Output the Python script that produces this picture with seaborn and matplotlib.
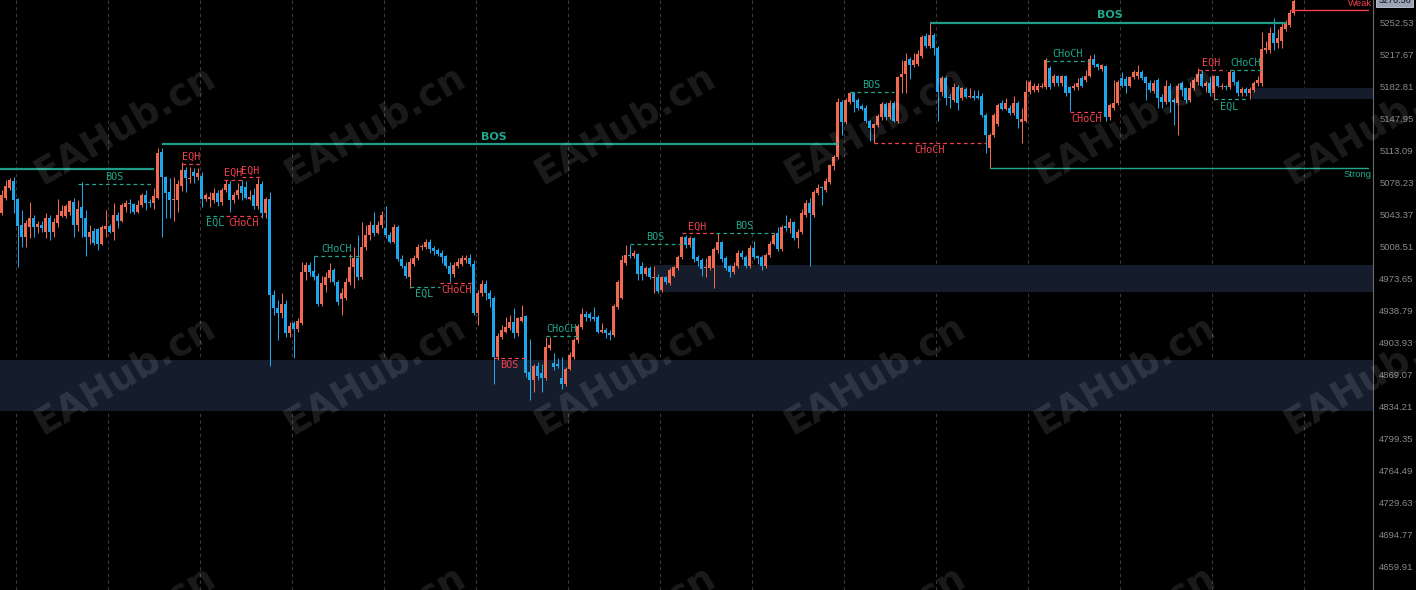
import numpy as np
import pandas as pd
import matplotlib
matplotlib.use("Agg")
import matplotlib.pyplot as plt
import matplotlib.transforms as mtransforms
import seaborn as sns

# --- candle data (one row per bar) ---
opens = [
    5045, 5062, 5073, 5080, 5060, 5032, 5019, 5030, 5040, 5030, 5032,
    5024, 5040, 5024, 5034, 5042, 5042, 5046, 5057, 5032, 5052,
    5040, 5019, 5026, 5028, 5012, 5028, 5031, 5025, 5043, 5037,
    5052, 5056, 5055, 5046, 5054, 5065, 5057, 5056, 5062, 5112,
    5084, 5068, 5059, 5059, 5075, 5092, 5082, 5090, 5084, 5086, 5061, 5060, 5059, 5067, 5057, 5070, 5077,
    5059, 5065, 5075, 5074, 5061, 5065, 5053, 5077, 5045, 5061,
    4956, 4942, 4936, 4946, 4914, 4925, 4919, 4925, 4981, 4989,
    4982, 4977, 4946, 4967, 4974, 4983, 4970, 4952, 4953, 4970,
    4986, 4996, 4975, 5008, 5021, 5032, 5023, 5032, 5029, 5021,
    5014, 5030, 4995, 4988, 4975, 4990, 4996, 5008, 5008, 5014,
    5007, 5005, 5002, 4998, 4988, 4979, 4987, 4990, 4994, 4996,
    4990, 4936, 4958, 4968, 4958, 4953, 4888, 4910, 4916, 4920,
    4926, 4914, 4928, 4933, 4872, 4863, 4879, 4871, 4865, 4898,
    4882, 4881, 4866, 4859, 4875, 4888, 4907, 4921, 4935, 4935,
    4932, 4932, 4916, 4918, 4915, 4912, 4943, 4953, 4991, 5000,
    4998, 5001, 4988, 4979, 4985, 4974, 4976, 4961, 4975, 4969,
    4977, 4985, 4997, 5019, 5010, 5018, 4997, 4994, 4985, 4985,
    4985, 5005, 5014, 4996, 4987, 4981, 4987, 5002, 4997, 4987,
    5007, 4998, 4997, 4987, 4999, 5012, 5023, 5006, 5031, 5029,
    5035, 5018, 5024, 5043, 5056, 5043, 5067, 5073, 5070, 5079,
    5096, 5106, 5166, 5144, 5166, 5176, 5168, 5162, 5160, 5146,
    5138, 5141, 5150, 5164, 5150, 5165, 5146, 5193, 5197, 5213,
    5206, 5208, 5216, 5238, 5227, 5239, 5225, 5177, 5192, 5172,
    5168, 5183, 5170, 5180, 5172, 5173, 5173, 5173, 5152, 5116,
    5130, 5142, 5165, 5159, 5160, 5154, 5165, 5144, 5146, 5177,
    5179, 5179, 5182, 5182, 5203, 5187, 5194, 5187, 5194, 5182,
    5181, 5182, 5192, 5190, 5195, 5213, 5208, 5202, 5205, 5150,
    5160, 5165, 5192, 5191, 5184, 5193, 5195, 5199, 5193, 5187,
    5178, 5190, 5172, 5166, 5184, 5168, 5165, 5187, 5181, 5168,
    5181, 5188, 5197, 5184, 5187, 5176, 5194, 5183, 5184, 5182,
    5199, 5188, 5176, 5180, 5176, 5179, 5187, 5187, 5223, 5223,
    5241, 5230, 5233, 5246, 5250, 5263,
]
closes = [
    5065, 5075, 5081, 5059, 5031, 5019, 5034, 5040, 5030, 5033, 5029,
    5040, 5024, 5035, 5043, 5047, 5053, 5058, 5032, 5050, 5040,
    5019, 5024, 5013, 5012, 5030, 5031, 5025, 5043, 5037, 5054,
    5056, 5055, 5046, 5054, 5065, 5056, 5056, 5064, 5111, 5084,
    5067, 5059, 5061, 5077, 5092, 5083, 5083, 5086, 5089, 5061, 5065, 5063, 5067, 5057, 5070, 5077, 5059,
    5065, 5070, 5067, 5062, 5063, 5053, 5077, 5045, 5061, 4956,
    4942, 4936, 4946, 4914, 4922, 4919, 4928, 4981, 4989, 4981,
    4975, 4946, 4969, 4975, 4983, 4970, 4948, 4958, 4970, 4986,
    4996, 4975, 5008, 5021, 5032, 5023, 5032, 5043, 5021, 5014,
    5030, 4995, 4987, 4977, 4992, 4996, 5008, 5009, 5014, 5006,
    5004, 5001, 4997, 4988, 4979, 4989, 4992, 4996, 4996, 4990,
    4936, 4958, 4968, 4958, 4952, 4888, 4911, 4918, 4921, 4926,
    4914, 4931, 4932, 4871, 4863, 4879, 4868, 4865, 4899, 4901,
    4877, 4879, 4859, 4875, 4891, 4907, 4922, 4935, 4932, 4931,
    4930, 4916, 4918, 4914, 4912, 4944, 4970, 4994, 4999, 4998,
    5002, 4979, 4979, 4985, 4975, 4976, 4960, 4975, 4970, 4983,
    4986, 4997, 5019, 5010, 5018, 4995, 4993, 4984, 4986, 4998,
    5006, 5014, 4995, 4985, 4981, 4988, 5002, 4997, 4987, 5007,
    4997, 4996, 4987, 5000, 5012, 5021, 5006, 5030, 5029, 5035,
    5018, 5025, 5045, 5056, 5045, 5068, 5072, 5072, 5080, 5097,
    5106, 5166, 5144, 5168, 5176, 5166, 5160, 5159, 5145, 5138,
    5142, 5151, 5164, 5150, 5165, 5146, 5193, 5197, 5211, 5206,
    5212, 5219, 5237, 5227, 5239, 5225, 5177, 5192, 5171, 5170,
    5183, 5165, 5181, 5172, 5173, 5171, 5171, 5152, 5130, 5130,
    5152, 5163, 5159, 5165, 5154, 5165, 5148, 5148, 5177, 5188,
    5184, 5184, 5184, 5212, 5182, 5195, 5187, 5194, 5176, 5176,
    5184, 5187, 5184, 5195, 5213, 5206, 5204, 5206, 5150, 5163,
    5165, 5188, 5184, 5184, 5193, 5199, 5199, 5192, 5187, 5179,
    5187, 5171, 5166, 5184, 5166, 5166, 5184, 5179, 5168, 5181,
    5190, 5197, 5184, 5187, 5176, 5194, 5184, 5184, 5182, 5199,
    5188, 5176, 5180, 5176, 5180, 5187, 5190, 5224, 5225, 5241,
    5230, 5236, 5248, 5252, 5263, 5276.56,
]
highs = [
    5070, 5081, 5083, 5084, 5062, 5048, 5038, 5057, 5043, 5037, 5036,
    5045, 5043, 5040, 5061, 5054, 5055, 5059, 5062, 5059, 5079,
    5048, 5032, 5029, 5029, 5032, 5048, 5033, 5056, 5046, 5056,
    5059, 5061, 5056, 5059, 5067, 5070, 5061, 5072, 5116, 5116,
    5086, 5083, 5084, 5081, 5101, 5095, 5095, 5094, 5094, 5090, 5067, 5068, 5073, 5070, 5072, 5081, 5080,
    5068, 5078, 5081, 5080, 5070, 5072, 5083, 5080, 5063, 5068,
    4961, 4950, 4958, 4950, 4926, 4928, 4931, 4992, 4992, 4992,
    4998, 4980, 4977, 4981, 4991, 4985, 4972, 4964, 4974, 5001,
    5008, 5021, 5035, 5032, 5037, 5046, 5037, 5047, 5053, 5024,
    5033, 5032, 4999, 4992, 4996, 4999, 5011, 5012, 5017, 5017,
    5009, 5007, 5005, 5000, 4992, 4992, 4996, 4999, 4999, 5001,
    4994, 4961, 4972, 4972, 4961, 4955, 4914, 4923, 4932, 4934,
    4942, 4932, 4945, 4934, 4908, 4881, 4883, 4881, 4910, 4910,
    4893, 4887, 4888, 4878, 4894, 4909, 4924, 4942, 4939, 4937,
    4943, 4934, 4925, 4920, 4918, 4946, 4972, 4999, 5010, 5010,
    5005, 5002, 4992, 4987, 4987, 4988, 4979, 4977, 4977, 4985,
    4988, 4999, 5020, 5021, 5020, 5019, 4999, 4996, 4996, 5000,
    5008, 5023, 5015, 4998, 4989, 4992, 5005, 5005, 4999, 5010,
    5015, 5000, 4999, 5002, 5015, 5023, 5030, 5032, 5043, 5040,
    5037, 5028, 5050, 5059, 5062, 5070, 5077, 5075, 5083, 5099,
    5108, 5171, 5168, 5170, 5177, 5177, 5170, 5164, 5163, 5148,
    5143, 5153, 5166, 5166, 5168, 5167, 5195, 5212, 5220, 5215,
    5220, 5223, 5239, 5241, 5252, 5241, 5227, 5194, 5194, 5175,
    5187, 5185, 5183, 5182, 5181, 5179, 5179, 5176, 5154, 5132,
    5154, 5165, 5168, 5170, 5163, 5173, 5167, 5160, 5190, 5190,
    5187, 5187, 5187, 5214, 5205, 5197, 5196, 5196, 5196, 5184,
    5187, 5192, 5194, 5201, 5217, 5218, 5209, 5208, 5207, 5165,
    5190, 5190, 5199, 5195, 5195, 5201, 5206, 5201, 5195, 5190,
    5190, 5192, 5175, 5190, 5187, 5170, 5187, 5189, 5183, 5188,
    5192, 5203, 5201, 5189, 5195, 5196, 5195, 5187, 5185, 5201,
    5201, 5190, 5182, 5182, 5182, 5189, 5195, 5242, 5233, 5248,
    5258, 5246, 5252, 5255, 5266, 5279,
]
lows = [
    5043, 5059, 5070, 5045, 4986, 5008, 5008, 5018, 5019, 5023, 5024,
    5018, 5016, 5019, 5030, 5041, 5040, 5043, 5019, 5026, 5019,
    4998, 5012, 5010, 5005, 5010, 5019, 5023, 5016, 5029, 5035,
    5046, 5045, 5044, 5045, 5052, 5048, 5052, 5050, 5060, 5019,
    5040, 5040, 5037, 5046, 5069, 5068, 5078, 5078, 5081, 5052, 5058, 5052, 5056, 5053, 5054, 5068, 5046,
    5056, 5061, 5059, 5060, 5059, 5050, 5050, 5040, 5040, 4879,
    4934, 4907, 4931, 4910, 4910, 4887, 4916, 4923, 4972, 4977,
    4972, 4944, 4944, 4959, 4970, 4967, 4945, 4934, 4950, 4967,
    4964, 4972, 4973, 5005, 5016, 5020, 5022, 5029, 5018, 5013,
    5013, 4993, 4985, 4974, 4964, 4988, 4994, 5005, 5006, 5002,
    5000, 4998, 4991, 4985, 4970, 4976, 4985, 4988, 4991, 4987,
    4934, 4923, 4955, 4950, 4943, 4859, 4885, 4908, 4914, 4918,
    4909, 4911, 4926, 4867, 4841, 4850, 4863, 4850, 4863, 4896,
    4874, 4876, 4854, 4857, 4874, 4886, 4904, 4919, 4928, 4928,
    4928, 4915, 4914, 4909, 4907, 4910, 4941, 4951, 4989, 4996,
    4996, 4972, 4972, 4977, 4973, 4958, 4958, 4959, 4968, 4967,
    4975, 4983, 4995, 5007, 5008, 4992, 4988, 4977, 4975, 4983,
    4964, 5002, 4992, 4983, 4975, 4979, 4985, 4995, 4985, 4985,
    4995, 4990, 4983, 4985, 4997, 5010, 5004, 5004, 5026, 5023,
    5016, 5007, 5022, 5041, 4988, 5041, 5065, 5054, 5068, 5077,
    5092, 5104, 5130, 5142, 5164, 5155, 5158, 5157, 5143, 5124,
    5121, 5139, 5147, 5147, 5148, 5144, 5143, 5176, 5176, 5191,
    5204, 5205, 5214, 5225, 5225, 5217, 5146, 5173, 5163, 5160,
    5166, 5157, 5168, 5170, 5170, 5168, 5169, 5150, 5111, 5094,
    5128, 5140, 5157, 5157, 5152, 5152, 5138, 5122, 5144, 5175,
    5177, 5177, 5181, 5180, 5180, 5184, 5184, 5184, 5173, 5156,
    5179, 5179, 5182, 5188, 5193, 5204, 5201, 5200, 5146, 5147,
    5157, 5163, 5182, 5176, 5182, 5191, 5191, 5190, 5168, 5177,
    5176, 5160, 5160, 5164, 5155, 5141, 5130, 5173, 5165, 5166,
    5179, 5185, 5182, 5177, 5173, 5168, 5182, 5180, 5179, 5180,
    5185, 5173, 5173, 5173, 5169, 5177, 5184, 5184, 5220, 5220,
    5223, 5225, 5225, 5244, 5248, 5261,
]

# price scale labels on the right
price_ticks = [4659.91, 4694.77, 4729.63, 4764.49, 4799.35, 4834.21, 4869.07,
               4903.93, 4938.79, 4973.65, 5008.51, 5043.37, 5078.23, 5113.09,
               5147.95, 5182.81, 5217.67, 5252.53]
last_price = 5276.56

# supply / demand zones: top, bottom, first bar
zone_tops = [4885, 4989, 5181]
zone_bottoms = [4830, 4959, 5169]
zone_starts = [-0.4, 163, 312.5]

# major structure breaks (solid lines)
major_labels = ["", "BOS", "BOS"]
major_prices = [5093, 5120, 5252]
major_starts = [-0.4, 40, 232]
major_ends = [38, 209, 321]
major_label_at = [None, 123, 277]

# strong low / weak high
sw_labels = ["Strong", "Weak"]
sw_prices = [5094, 5266]
sw_starts = [247, 322]

# minor structure marks (dashed lines)
minor_labels = ["BOS", "EQH", "EQH", "EQH", "CHoCH", "EQL", "CHoCH", "EQL", "CHoCH",
                "BOS", "CHoCH", "BOS", "EQH", "BOS", "BOS", "CHoCH", "CHoCH",
                "CHoCH", "EQH", "CHoCH", "EQL"]
minor_prices = [5077, 5099, 5081, 5084, 5042, 5042, 4998, 4965, 4969,
                4887, 4911, 5011, 5023, 5023, 5177, 5122, 5211,
                5155, 5201, 5201, 5169]
minor_starts = [19, 45, 55.5, 60, 56, 51, 78, 102, 109.5,
                123, 136, 157, 170, 178.5, 212, 218, 261,
                267, 299, 307, 303]
minor_ends = [37.5, 50, 60.5, 64.5, 65, 56, 89.5, 109.5, 118,
              131, 144, 170, 178, 193, 223, 246, 272,
              275.5, 306, 315, 311]
minor_bull = [True, False, False, False, False, True, True, True, False,
              False, True, True, False, True, True, False, True,
              False, False, True, True]
minor_above = [True, True, True, True, False, False, True, False, False,
               False, True, True, True, True, True, False, True,
               False, True, True, False]

BULL = "#F2694D"
BEAR = "#1BA8EF"
GREEN = "#1FA88D"
RED = "#F2404E"

sns.set_theme(style="dark", rc={"axes.facecolor": "black", "figure.facecolor": "black"})
plt.rcParams["font.family"] = ["DejaVu Sans"]

df = pd.DataFrame({"open": opens, "high": highs, "low": lows, "close": closes})
df["x"] = np.arange(len(df))
df["high"] = df[["high", "open", "close"]].max(axis=1)
df["low"] = df[["low", "open", "close"]].min(axis=1)
df["color"] = np.where(df["close"] >= df["open"], BULL, BEAR)
df["body_lo"] = df[["open", "close"]].min(axis=1)
df["body_h"] = (df["close"] - df["open"]).abs().clip(lower=1.1)

fig = plt.figure(figsize=(14.16, 5.9), dpi=100)
ax = fig.add_axes([0, 0, 1373 / 1416, 1])
ax.set_facecolor("black")
# 4 px per bar, bar centres on half pixels so bodies and wicks land on whole pixels
x_left, x_right = -0.375, 342.875
ax.set_xlim(x_left, x_right)
ax.set_ylim(4634.5, 5277.3)

# vertical grid
ax.set_xticks(np.arange(3.7, x_right, 23))
ax.tick_params(axis="x", length=0, labelbottom=False)
ax.grid(axis="x", color="#3a3a3a", linestyle=(0, (3, 3)), linewidth=0.8)
ax.grid(axis="y", visible=False)

# zones
for top, bot, x0 in zip(zone_tops, zone_bottoms, zone_starts):
    ax.fill_between([x0, x_right], bot, top, color="#151D2C", lw=0, zorder=1)

# candles
ax.vlines(df["x"], df["low"], df["high"], colors=df["color"], lw=0.72, zorder=3)
ax.bar(df["x"], df["body_h"], bottom=df["body_lo"], width=0.75,
       color=df["color"], linewidth=0, zorder=4)

# major BOS lines
for lab, p, x0, x1, lx in zip(major_labels, major_prices, major_starts, major_ends,
                              major_label_at):
    ax.plot([x0, x1], [p, p], color="#1E9E88", lw=1.6, zorder=5, solid_capstyle="butt")
    if lab:
        ax.annotate(lab, (lx, p), xytext=(0, 2), textcoords="offset points",
                    ha="center", va="bottom", color=GREEN, fontsize=8,
                    fontweight="bold", zorder=6)

# strong / weak levels
for lab, p, x0 in zip(sw_labels, sw_prices, sw_starts):
    col = GREEN if lab == "Strong" else RED
    ax.plot([x0, x_right - 1.2], [p, p], color=col, lw=1.0, zorder=5)
    ax.annotate(lab, (x_right - 0.3, p), xytext=(0, -1.5 if lab == "Strong" else 1.5),
                textcoords="offset points", ha="right",
                va="top" if lab == "Strong" else "bottom",
                color=col, fontsize=6.8, family="Liberation Sans", zorder=6)

# minor marks
for lab, p, x0, x1, bull, above in zip(minor_labels, minor_prices, minor_starts,
                                       minor_ends, minor_bull, minor_above):
    col = GREEN if bull else RED
    ax.plot([x0, x1], [p, p], color=col, lw=0.9, linestyle=(0, (3, 2.5)), zorder=5)
    ax.annotate(lab, ((x0 + x1) / 2, p), xytext=(0, 1.5 if above else -1.5),
                textcoords="offset points", ha="center",
                va="bottom" if above else "top",
                color=col, fontsize=7.3, family="DejaVu Sans Mono", zorder=6)

# right price scale
ax.yaxis.tick_right()
ax.set_yticks(price_ticks)
ax.set_yticklabels([f"{v:.2f}" for v in price_ticks])
ax.tick_params(axis="y", colors="#8a8a8a", labelsize=6.8, length=3, width=0.8,
               pad=1.5, direction="out")
for lbl in ax.get_yticklabels():
    lbl.set_family("Liberation Sans")
sns.despine(ax=ax, left=True, top=True, bottom=True, right=False)
ax.spines["right"].set_color("#6a6a6a")
ax.spines["right"].set_linewidth(0.8)

trans = mtransforms.blended_transform_factory(ax.transAxes, ax.transData)
ax.text(1.004, last_price, f"{last_price:.2f}", transform=trans, ha="left", va="center",
        fontsize=6.5, family="Liberation Sans", color="#111111", clip_on=False,
        bbox=dict(boxstyle="square,pad=0.25", fc="#9AA6B8", ec="#C8CED8", lw=0.6), zorder=7)

# watermark
for wy in [125, 375, 625]:
    for wx in [125, 375, 625, 875, 1125, 1375]:
        fig.text(wx / 1416, 1 - wy / 590, "EAHub.cn", rotation=30, ha="center", va="center",
                 fontsize=27, color="white", alpha=0.11, fontweight="bold", zorder=10)

fig.savefig("out.png", dpi=100, facecolor="black")
